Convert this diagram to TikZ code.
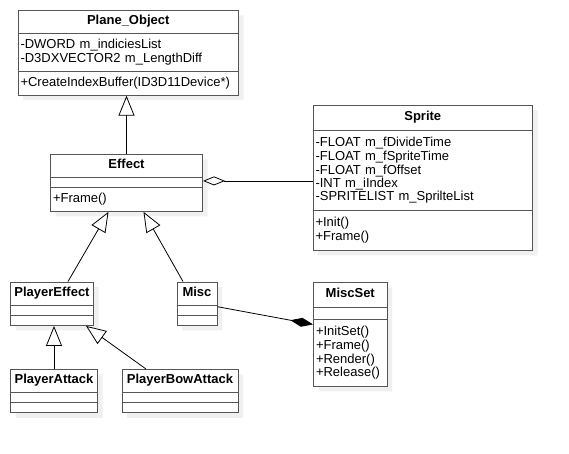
\documentclass[tikz,border=0pt]{standalone}
\usepackage{fontspec}
\setmainfont{Liberation Sans}
\usetikzlibrary{arrows.meta, shapes.multipart, shadows}
\definecolor{boxline}{RGB}{85,85,85}
\definecolor{shadowgray}{RGB}{240,240,240}
\newcommand{\umlname}[1]{\hfill\textbf{#1}\strut\hfill\null}
\newcommand{\umlmembers}[1]{\strut#1\strut}

\begin{document}
\begin{tikzpicture}[
    x=1pt, y=-1pt,
    umlclass/.style={rectangle split, rectangle split parts=3, draw=boxline, line width=1pt, fill=white, anchor=north west, inner xsep=2.5pt, inner ysep=4.5pt, font=\fontsize{13}{13.3}\selectfont, rectangle split empty part height=0pt, rectangle split empty part depth=0pt, drop shadow={shadow xshift=5pt, shadow yshift=-5pt, fill=shadowgray, opacity=1}},
    inherit/.style={draw=black, line width=0.8pt, -{Triangle[open, length=20pt, width=16pt, fill=white]}},
    aggr/.style={draw=black, line width=0.8pt, -{Diamond[open, length=22pt, width=9pt, fill=white]}},
    compo/.style={draw=black, line width=0.8pt, -{Diamond[length=23pt, width=9pt]}}
]
    \useasboundingbox (0,0) rectangle (569,454);

    % Classes
    \node[umlclass, text width=215.5pt] (plane) at (17.5,10) {\umlname{Plane\_Object}\nodepart{two}\umlmembers{-DWORD m\_indiciesList\\-D3DXVECTOR2 m\_LengthDiff}\nodepart{three}\umlmembers{+CreateIndexBuffer(ID3D11Device*)}};
    \node[umlclass, text width=214.5pt, inner ysep=5.5pt] (sprite) at (312.5,105) {\umlname{Sprite}\nodepart{two}\umlmembers{-FLOAT m\_fDivideTime\\-FLOAT m\_fSpriteTime\\-FLOAT m\_fOffset\\-INT m\_iIndex\\-SPRITELIST m\_SprilteList}\nodepart{three}\umlmembers{+Init()\\+Frame()}};
    \node[umlclass, text width=147pt] (effect) at (50,154) {\umlname{Effect}\nodepart{two}\nodepart{three}\umlmembers{+Frame()}};
    \node[umlclass, text width=78pt] (playereffect) at (10,281.5) {\umlname{PlayerEffect}\nodepart{two}\nodepart{three}};
    \node[umlclass, text width=35pt] (misc) at (176.5,281.5) {\umlname{Misc}\nodepart{two}\nodepart{three}};
    \node[umlclass, text width=68.5pt, inner ysep=5.5pt] (miscset) at (313,282) {\umlname{MiscSet}\nodepart{two}\nodepart{three}\umlmembers{+InitSet()\\+Frame()\\+Render()\\+Release()}};
    \node[umlclass, text width=82pt] (playerattack) at (10,369) {\umlname{PlayerAttack}\nodepart{two}\nodepart{three}};
    \node[umlclass, text width=111pt] (playerbowattack) at (121.5,369) {\umlname{PlayerBowAttack}\nodepart{two}\nodepart{three}};

    % Relations
    \draw[inherit] (effect.north) -- (effect.north |- plane.south);
    \draw[aggr] ([yshift=2pt]sprite.west |- effect.east) -- ([yshift=2pt]effect.east);
    \draw[inherit] ([xshift=16pt]playereffect.north) -- ([xshift=-18pt]effect.south);
    \draw[inherit] ([xshift=-14pt]misc.north) -- ([xshift=17pt]effect.south);
    \draw[inherit] (playerattack.north) -- (playerattack.north |- playereffect.south);
    \draw[inherit] ([xshift=-34pt]playerbowattack.north) -- ([xshift=-8pt]playereffect.south east);
    \draw[compo] ([yshift=-3pt]misc.east) -- ([yshift=10pt]miscset.west);
\end{tikzpicture}
\end{document}
